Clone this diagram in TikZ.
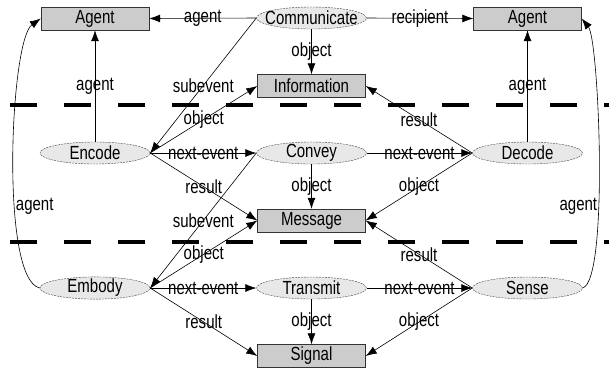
\documentclass[tikz,border=0pt]{standalone}
\usepackage{fontspec}
\setmainfont{Liberation Sans}[FakeStretch=0.79]
\usetikzlibrary{shapes.geometric,arrows.meta}

\begin{document}
\begin{tikzpicture}[x=1pt,y=-1pt,
  font=\fontsize{19}{22}\selectfont,
  box/.style={rectangle, draw=black!80, fill=black!20, minimum width=108pt,
    minimum height=23pt, inner sep=0pt},
  act/.style={ellipse, draw=black!75, dash pattern=on 2pt off 1pt, fill=black!9,
    minimum width=110pt, minimum height=22pt, inner xsep=-9pt, inner ysep=-1pt},
  rel/.style={-{Latex[length=11pt,width=8pt]}, line width=0.6pt},
  sep/.style={line width=4pt, dash pattern=on 27pt off 27pt}]
  \useasboundingbox (0,0) rectangle (609,373);
  % level separators
  \draw[sep] (10,105) -- (609,105);
  \draw[sep] (10,242) -- (609,242);
  % top level
  \node[box] (agentL) at (95,18.5) {Agent};
  \node[act] (comm) at (311.5,18) {Communicate};
  \node[box] (agentR) at (527.5,18.5) {Agent};
  \node[box] (info) at (311.5,86) {Information};
  % message level
  \node[act] (encode) at (95,153) {Encode};
  \node[act] (convey) at (311.5,153) {Convey};
  \node[act] (decode) at (527.5,153) {Decode};
  \node[box] (msg) at (311.5,220.5) {Message};
  % signal level
  \node[act] (embody) at (95,288) {Embody};
  \node[act] (transmit) at (311.5,288) {Transmit};
  \node[act] (sense) at (527.5,288) {Sense};
  \node[box] (signal) at (311.5,356) {Signal};
  % communicate
  \draw[rel] (comm.west) -- node {agent} (agentL.east);
  \draw[rel] (comm.east) -- node {recipient} (agentR.west);
  \draw[rel] (comm.south) -- node {object} (info.north);
  \draw[rel] (comm.west) -- node {subevent} (encode.east);
  % encode / convey / decode
  \draw[rel] (encode.north) -- node {agent} (agentL.south);
  \draw[rel] (encode.east) -- node {object} (info.west);
  \draw[rel] (encode.east) -- node {next-event} (convey.west);
  \draw[rel] (encode.east) -- node {result} (msg.west);
  \draw[rel] (convey.south) -- node {object} (msg.north);
  \draw[rel] (convey.east) -- node {next-event} (decode.west);
  \draw[rel] (convey.west) -- node {subevent} (embody.east);
  \draw[rel] (decode.north) -- node {agent} (agentR.south);
  \draw[rel] (decode.west) -- node {result} (info.east);
  \draw[rel] (decode.west) -- node {object} (msg.east);
  % embody / transmit / sense
  \draw[rel] (embody.east) -- node {object} (msg.west);
  \draw[rel] (embody.east) -- node {next-event} (transmit.west);
  \draw[rel] (embody.east) -- node {result} (signal.west);
  \draw[rel] (transmit.south) -- node {object} (signal.north);
  \draw[rel] (transmit.east) -- node {next-event} (sense.west);
  \draw[rel] (sense.west) -- node {result} (msg.east);
  \draw[rel] (sense.west) -- node {object} (signal.east);
  % outer agent arcs
  \draw[rel] (embody.west) .. controls (0,280) and (10,40) .. node[pos=0.37, right, inner sep=1pt] {agent} (agentL.west);
  \draw[rel] (sense.east) .. controls (609,280) and (599,40) .. node[pos=0.37, left, inner sep=1pt] {agent} (agentR.east);
\end{tikzpicture}
\end{document}
